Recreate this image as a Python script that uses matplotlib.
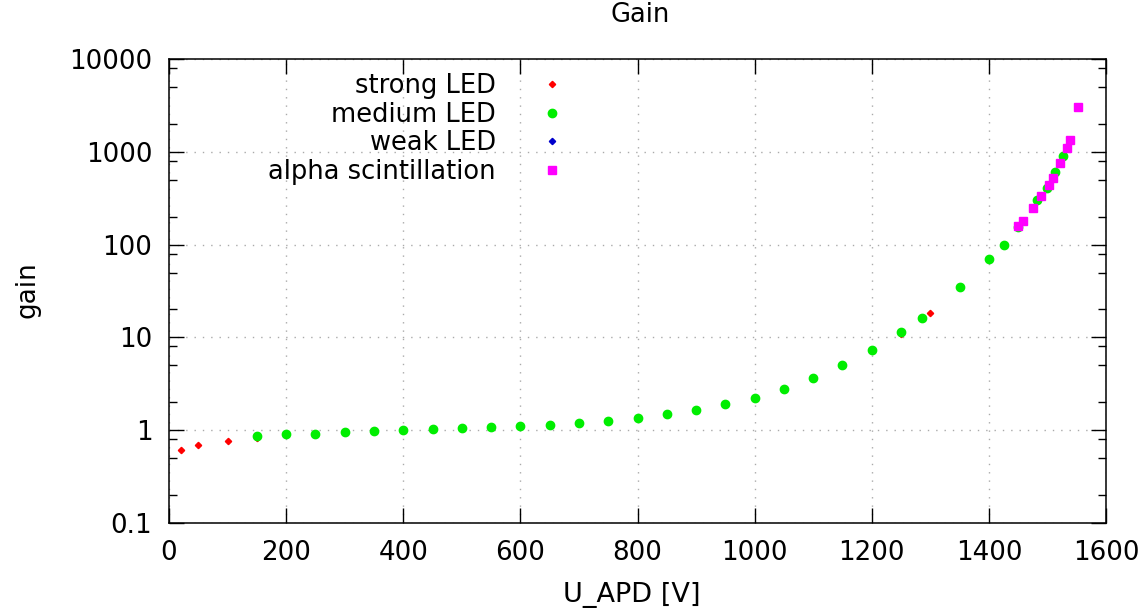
import matplotlib
matplotlib.use("Agg")
import matplotlib.pyplot as plt
from matplotlib.ticker import LogLocator, FixedLocator, NullFormatter

# data
strong_u = [20, 50, 100, 150, 1250, 1300]
strong_gain = [0.61, 0.69, 0.77, 0.83, 11.0, 18.5]

medium_u = [150, 200, 250, 300, 350, 400, 450, 500, 550, 600, 650, 700, 750, 800,
            850, 900, 950, 1000, 1050, 1100, 1150, 1200, 1250, 1285, 1350, 1400,
            1425, 1450, 1483, 1499, 1513, 1527]
medium_gain = [0.86, 0.906, 0.92, 0.95, 0.975, 1.0, 1.025, 1.05, 1.077, 1.1, 1.15, 1.2,
               1.26, 1.36, 1.49, 1.67, 1.91, 2.25, 2.81, 3.66, 5.02, 7.33, 11.3, 16.2,
               34.8, 69.6, 100, 155, 301, 412, 603, 895]

weak_u = []
weak_gain = []

alpha_u = [1449, 1459, 1475, 1489, 1502, 1509, 1522, 1533, 1539, 1553]
alpha_gain = [158, 180, 246, 337, 438, 523, 760, 1093, 1350, 3030]

plt.rcParams['font.family'] = ['DejaVu Sans']
fs = 18.8

fig = plt.figure(figsize=(11.43, 6.11), dpi=100)
ax = fig.add_axes([169 / 1143, 1 - 523 / 611, (1106 - 169) / 1143, (523 - 59) / 611])

ax.plot(strong_u, strong_gain, 'D', color='#ff0000', markersize=3.2, linestyle='none', label='strong LED')
ax.plot(medium_u, medium_gain, 'o', color='#00ee00', markersize=6, linestyle='none', label='medium LED')
ax.plot(weak_u, weak_gain, 'D', color='#0000cc', markersize=3.2, linestyle='none', label='weak LED')
ax.plot(alpha_u, alpha_gain, 's', color='#ff00ff', markersize=5.5, linestyle='none', label='alpha scintillation')

ax.set_yscale('log')
ax.set_xlim(0, 1600)
ax.set_ylim(0.1, 10000)
ax.xaxis.set_major_locator(FixedLocator(range(0, 1601, 200)))
ax.yaxis.set_major_locator(FixedLocator([0.1, 1, 10, 100, 1000, 10000]))
ax.yaxis.set_minor_locator(LogLocator(base=10, subs=[2, 5, 8]))
ax.yaxis.set_minor_formatter(NullFormatter())
ax.set_yticklabels(['0.1', '1', '10', '100', '1000', '10000'])

ax.tick_params(axis='both', which='major', direction='in', length=11, width=1,
               top=True, right=True, labelsize=fs, pad=12)
ax.tick_params(axis='y', which='minor', direction='in', length=6, width=1, right=True)
ax.grid(True, which='major', color='#aaaaaa', linestyle=(0, (1, 5)), linewidth=1)
for s in ax.spines.values():
    s.set_linewidth(1.1)

fig.text(640 / 1143, 1 - 22 / 611, 'Gain', ha='center', va='baseline', fontsize=18.5)
fig.text(632 / 1143, 1 - 595 / 611, 'U_APD [V]', ha='center', va='center', fontsize=19.5)
fig.text(27 / 1143, 1 - 290 / 611, 'gain', ha='center', va='center', rotation=90, fontsize=fs)

ax.legend(loc='upper right', bbox_to_anchor=((565 - 169) / 937, (523 - 73) / 464),
          frameon=False, markerfirst=False, fontsize=18.5, handlelength=1,
          handletextpad=1.7, labelspacing=0.1, borderpad=0, borderaxespad=0)

fig.savefig('out.png', dpi=100)
